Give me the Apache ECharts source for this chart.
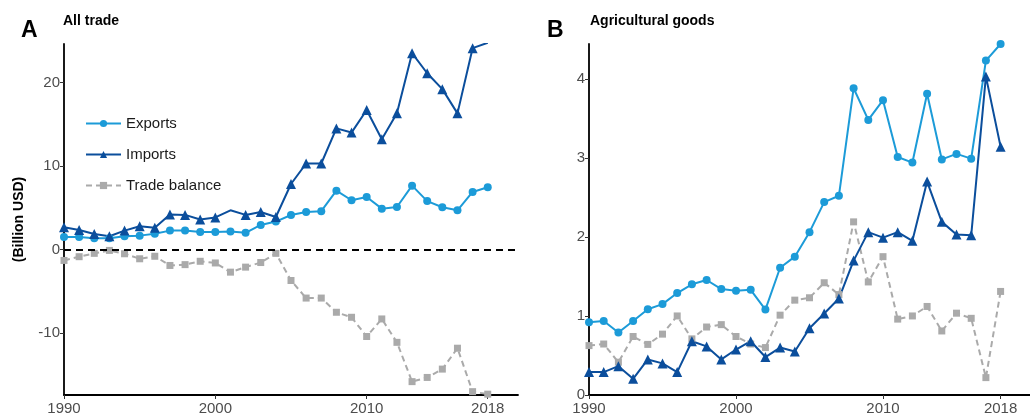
<!DOCTYPE html>
<html>
<head>
<meta charset="utf-8">
<title>Trade</title>
<script src="https://cdn.jsdelivr.net/npm/echarts@6/dist/echarts.min.js"></script>
<style>
  html, body { margin: 0; padding: 0; background: #fff; }
  #chart { width: 1030px; height: 419px; }
</style>
</head>
<body>
<div id="chart"></div>
<script>
// Years on the horizontal axis
const years = [1990, 1991, 1992, 1993, 1994, 1995, 1996, 1997, 1998, 1999,
               2000, 2001, 2002, 2003, 2004, 2005, 2006, 2007, 2008, 2009,
               2010, 2011, 2012, 2013, 2014, 2015, 2016, 2017, 2018];

// Panel A: all trade (billion USD)
const exportsAll = [1.5, 1.5, 1.35, 1.35, 1.6, 1.67, 1.9, 2.27, 2.27, 2.1,
                    2.1, 2.15, 2.0, 2.95, 3.35, 4.14, 4.5, 4.6, 7.05, 5.9,
                    6.3, 4.9, 5.1, 7.65, 5.8, 5.06, 4.7, 6.9, 7.45];
const importsAll = [2.67, 2.35, 1.87, 1.6, 2.27, 2.8, 2.6, 4.2, 4.15, 3.6,
                    3.85, 4.7, 4.15, 4.5, 3.9, 7.85, 10.3, 10.3, 14.5, 14.0,
                    16.7, 13.2, 16.3, 23.5, 21.1, 19.2, 16.3, 24.1, 24.75];
const balanceAll = [-1.3, -0.85, -0.45, -0.1, -0.5, -1.1, -0.8, -1.9, -1.8, -1.4,
                    -1.6, -2.7, -2.1, -1.55, -0.45, -3.7, -5.8, -5.8, -7.5, -8.1,
                    -10.4, -8.3, -11.1, -15.8, -15.3, -14.3, -11.8, -17.0, -17.3];
// years of the imports line drawn without a marker
const importsAllNoMarker = [2001];

// Panel B: agricultural goods (billion USD)
const exportsAgri = [0.92, 0.935, 0.79, 0.935, 1.085, 1.15, 1.29, 1.40, 1.455, 1.34,
                     1.32, 1.33, 1.08, 1.61, 1.75, 2.06, 2.44, 2.52, 3.88, 3.48,
                     3.73, 3.01, 2.94, 3.81, 2.98, 3.05, 2.99, 4.23, 4.44];
const importsAgri = [0.29, 0.29, 0.365, 0.205, 0.45, 0.40, 0.29, 0.68, 0.615, 0.45,
                     0.575, 0.68, 0.48, 0.60, 0.55, 0.845, 1.03, 1.22, 1.70, 2.06,
                     1.99, 2.06, 1.95, 2.70, 2.19, 2.03, 2.02, 4.03, 3.14];
const balanceAgri = [0.625, 0.645, 0.415, 0.74, 0.64, 0.77, 1.0, 0.71, 0.86, 0.89,
                     0.74, 0.645, 0.60, 1.01, 1.20, 1.23, 1.42, 1.27, 2.19, 1.43,
                     1.75, 0.96, 1.0, 1.12, 0.81, 1.035, 0.97, 0.22, 1.31];

// Tick labels
const xTicks = [1990, 2000, 2010, 2018];
const yTicksAll = [-10, 0, 10, 20];
const yTicksAgri = [0, 1, 2, 3, 4];

const FONT = '"Liberation Sans", Arial, sans-serif';
const C_EXP = '#1c9bd8';
const C_IMP = '#0b4e9c';
const C_BAL = '#aaaaaa';

function pairs(vals, skipYears) {
  return vals.map((v, i) => {
    const item = { value: [years[i], v] };
    if (skipYears && skipYears.indexOf(years[i]) >= 0) item.symbol = 'none';
    return item;
  });
}

function xAxis(gridIndex) {
  return {
    type: 'value', gridIndex, min: 1990, max: 2020,
    axisLine: { onZero: false, lineStyle: { color: '#000', width: 1.8 } },
    axisTick: { show: true, customValues: xTicks, length: 4, lineStyle: { color: '#333' } },
    axisLabel: {
      customValues: xTicks, formatter: v => String(v),
      color: '#4d4d4d', fontSize: 15, fontFamily: FONT, margin: 6
    },
    splitLine: { show: false }
  };
}

function yAxis(gridIndex, min, max, ticks, name) {
  return {
    type: 'value', gridIndex, min, max,
    name: name || '', nameLocation: 'middle', nameGap: 38,
    nameTextStyle: { fontSize: 14, fontWeight: 'bold', color: '#000', fontFamily: FONT },
    axisLine: { show: true, onZero: false, lineStyle: { color: '#000', width: 1.8 } },
    axisTick: { show: true, customValues: ticks, length: 4, lineStyle: { color: '#333' } },
    axisLabel: {
      customValues: ticks, formatter: v => String(v),
      color: '#4d4d4d', fontSize: 15, fontFamily: FONT, margin: 4
    },
    splitLine: { show: false }
  };
}

function lineSeries(name, idx, data, kind, extra) {
  const styles = {
    exp: { color: C_EXP, symbol: 'circle', symbolSize: 8, type: 'solid' },
    imp: { color: C_IMP, symbol: 'triangle', symbolSize: 10, type: 'solid' },
    bal: { color: C_BAL, symbol: 'rect', symbolSize: 7, type: [6, 4] }
  }[kind];
  return Object.assign({
    name, type: 'line', xAxisIndex: idx, yAxisIndex: idx,
    data, symbol: styles.symbol, symbolSize: styles.symbolSize,
    showAllSymbol: true, clip: true, animation: false,
    itemStyle: { color: styles.color },
    lineStyle: { color: styles.color, width: 2, type: styles.type }
  }, extra || {});
}

const chart = echarts.init(document.getElementById('chart'), null, { renderer: 'canvas' });

const titleText = (text, left, top, size) => ({
  text, left, top, padding: 0,
  textStyle: { fontSize: size, fontWeight: 'bold', color: '#000', fontFamily: FONT }
});

chart.setOption({
  backgroundColor: '#fff',
  animation: false,
  title: [
    titleText('A', 21, 19, 23),
    titleText('All trade', 63, 14, 14),
    titleText('B', 547, 19, 23),
    titleText('Agricultural goods', 590, 14, 14)
  ],
  legend: {
    orient: 'vertical', left: 85, top: 116, padding: 0,
    itemWidth: 35, itemHeight: 9, itemGap: 16,
    textStyle: { fontSize: 15, color: '#1a1a1a', fontFamily: FONT },
    data: ['Exports', 'Imports', 'Trade balance'],
    selectedMode: false
  },
  grid: [
    { left: 64, top: 44, width: 454, height: 351 },
    { left: 589, top: 44, width: 454, height: 351 }
  ],
  xAxis: [xAxis(0), xAxis(1)],
  yAxis: [
    yAxis(0, -17.4, 24.6, yTicksAll, '(Billion USD)'),
    yAxis(1, 0, 4.44, yTicksAgri)
  ],
  series: [
    lineSeries('Trade balance', 0, pairs(balanceAll), 'bal', {
      markLine: {
        silent: true, symbol: ['none', 'none'], label: { show: false },
        lineStyle: { color: '#000', type: [7, 5], width: 2 },
        emphasis: { disabled: true },
        data: [{ yAxis: 0 }]
      }
    }),
    lineSeries('Exports', 0, pairs(exportsAll), 'exp'),
    lineSeries('Imports', 0, pairs(importsAll, importsAllNoMarker), 'imp'),
    lineSeries('Trade balance', 1, pairs(balanceAgri), 'bal'),
    lineSeries('Exports', 1, pairs(exportsAgri), 'exp'),
    lineSeries('Imports', 1, pairs(importsAgri), 'imp')
  ]
});
</script>
</body>
</html>
